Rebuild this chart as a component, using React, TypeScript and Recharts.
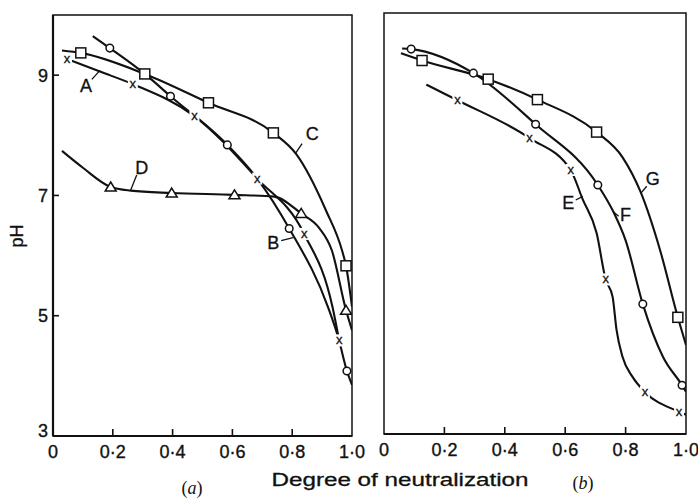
import { LineChart, Line, XAxis, YAxis, ReferenceArea, ReferenceLine, ReferenceDot } from "recharts";

// Each reading: degree of neutralization, pH, and whether it is a measured (marked) point
type Reading = { x: number; pH: number; m?: boolean };

const xTicks = [0, 0.2, 0.4, 0.6, 0.8, 1.0];
const yTicks = [3, 5, 7, 9];

// panel (a)
const curveA: Reading[] = [
  { x: 0.047, pH: 9.27, m: true },
  { x: 0.157, pH: 9.06 },
  { x: 0.267, pH: 8.85, m: true },
  { x: 0.473, pH: 8.32, m: true },
  { x: 0.683, pH: 7.28, m: true },
  { x: 0.84, pH: 6.36, m: true },
  { x: 0.935, pH: 5.14 },
  { x: 0.957, pH: 4.59, m: true },
];

const curveB: Reading[] = [
  { x: 0.133, pH: 9.65 },
  { x: 0.19, pH: 9.45, m: true },
  { x: 0.307, pH: 9.02 },
  { x: 0.393, pH: 8.65, m: true },
  { x: 0.583, pH: 7.84, m: true },
  { x: 0.683, pH: 7.28 },
  { x: 0.79, pH: 6.45, m: true },
  { x: 0.92, pH: 5.14 },
  { x: 0.955, pH: 4.62 },
  { x: 0.983, pH: 4.08, m: true },
  { x: 1.0, pH: 3.85 },
];

const curveC: Reading[] = [
  { x: 0.03, pH: 9.41 },
  { x: 0.093, pH: 9.37, m: true },
  { x: 0.307, pH: 9.02, m: true },
  { x: 0.52, pH: 8.54, m: true },
  { x: 0.737, pH: 8.04, m: true },
  { x: 0.813, pH: 7.69 },
  { x: 0.913, pH: 6.75 },
  { x: 0.967, pH: 6.08 },
  { x: 0.98, pH: 5.83, m: true },
  { x: 1.0, pH: 5.15 },
];

const curveD: Reading[] = [
  { x: 0.03, pH: 7.74 },
  { x: 0.1, pH: 7.46 },
  { x: 0.193, pH: 7.14, m: true },
  { x: 0.26, pH: 7.08 },
  { x: 0.397, pH: 7.04, m: true },
  { x: 0.607, pH: 7.01, m: true },
  { x: 0.74, pH: 6.98 },
  { x: 0.83, pH: 6.7, m: true },
  { x: 0.89, pH: 6.46 },
  { x: 0.933, pH: 6.08 },
  { x: 0.98, pH: 5.09, m: true },
  { x: 1.0, pH: 4.76 },
];

// panel (b)
const curveE: Reading[] = [
  { x: 0.14, pH: 8.81 },
  { x: 0.243, pH: 8.55, m: true },
  { x: 0.482, pH: 7.92, m: true },
  { x: 0.618, pH: 7.39, m: true },
  { x: 0.658, pH: 6.9 },
  { x: 0.704, pH: 6.34 },
  { x: 0.734, pH: 5.57, m: true },
  { x: 0.757, pH: 5.28 },
  { x: 0.77, pH: 4.73 },
  { x: 0.79, pH: 4.28 },
  { x: 0.823, pH: 3.95 },
  { x: 0.864, pH: 3.7, m: true },
  { x: 0.977, pH: 3.37, m: true },
  { x: 1.0, pH: 3.32 },
];

const curveF: Reading[] = [
  { x: 0.06, pH: 9.41 },
  { x: 0.09, pH: 9.4, m: true },
  { x: 0.296, pH: 9.0, m: true },
  { x: 0.502, pH: 8.15, m: true },
  { x: 0.708, pH: 7.14, m: true },
  { x: 0.76, pH: 6.69 },
  { x: 0.8, pH: 6.22 },
  { x: 0.857, pH: 5.16, m: true },
  { x: 0.924, pH: 4.28 },
  { x: 0.987, pH: 3.81, m: true },
  { x: 1.0, pH: 3.7 },
];

const curveG: Reading[] = [
  { x: 0.056, pH: 9.33 },
  { x: 0.126, pH: 9.21, m: true },
  { x: 0.345, pH: 8.9, m: true },
  { x: 0.508, pH: 8.56, m: true },
  { x: 0.704, pH: 8.02, m: true },
  { x: 0.79, pH: 7.6 },
  { x: 0.85, pH: 7.02 },
  { x: 0.914, pH: 6.06 },
  { x: 0.973, pH: 4.94, m: true },
  { x: 1.0, pH: 4.48 },
];

// curve letters with their leader lines, in data units
const labelsA = [
  { name: "A", x: 0.11, pH: 8.83, from: [0.13, 8.93], to: [0.157, 9.08] },
  { name: "B", x: 0.737, pH: 6.22, from: [0.763, 6.25], to: [0.803, 6.3] },
  { name: "C", x: 0.867, pH: 8.02, from: [0.833, 7.86], to: [0.81, 7.69] },
  { name: "D", x: 0.297, pH: 7.46, from: [0.28, 7.34], to: [0.26, 7.09] },
];

const labelsB = [
  { name: "E", x: 0.61, pH: 6.84, from: [0.635, 6.89], to: [0.658, 6.95] },
  { name: "F", x: 0.8, pH: 6.64, from: [0.777, 6.62], to: [0.76, 6.69] },
  { name: "G", x: 0.89, pH: 7.25, from: [0.87, 7.12], to: [0.85, 7.0] },
];

const FONT = '"Liberation Sans", Arial, sans-serif';
const SERIF = '"Liberation Serif", "Times New Roman", serif';
const INK = "#111";

const fmt = (v: number) => (v === 0 ? "0" : v.toFixed(1).replace(".", "\u00b7"));

const XTick = ({ x, y, payload }: any) => {
  const v = payload.value;
  return (
    <g>
      {v > 0 && v < 1 && <line x1={x} x2={x} y1={y} y2={y - 7} stroke={INK} strokeWidth={1.6} />}
      <text x={x} y={y + 22} textAnchor="middle" fontSize={18} fontFamily={FONT} fill={INK} stroke={INK} strokeWidth={0.35}>
        {fmt(v)}
      </text>
    </g>
  );
};

const YTick = ({ x, y, payload }: any) => {
  const v = payload.value;
  return (
    <g>
      {v > 3 && <line x1={x} x2={x + 6} y1={y} y2={y} stroke={INK} strokeWidth={1.6} />}
      <text
        x={x - 5}
        y={v === 3 ? y + 1 : y + 6.5}
        textAnchor="end"
        fontSize={18}
        fontFamily={FONT}
        fill={INK}
        stroke={INK}
        strokeWidth={0.35}
      >
        {v}
      </text>
    </g>
  );
};

const makeDot = (shape: "circle" | "square" | "triangle" | "cross") => (props: any) => {
  const { cx, cy, payload, index } = props;
  if (!payload.m) return <g key={index} />;
  if (shape === "circle")
    return <circle key={index} cx={cx} cy={cy} r={3.8} fill="#fff" stroke={INK} strokeWidth={1.5} />;
  if (shape === "square")
    return <rect key={index} x={cx - 5} y={cy - 5} width={10} height={10} fill="#fff" stroke={INK} strokeWidth={1.5} />;
  if (shape === "triangle")
    return (
      <path
        key={index}
        d={`M${cx},${cy - 5} L${cx + 5.5},${cy + 4} L${cx - 5.5},${cy + 4} Z`}
        fill="#fff"
        stroke={INK}
        strokeWidth={1.5}
      />
    );
  return (
    <g key={index}>
      <rect x={cx - 5} y={cy - 6} width={10} height={12} fill="#fff" />
      <text x={cx} y={cy + 4} textAnchor="middle" fontSize={13} fontFamily={FONT} fill={INK} stroke={INK} strokeWidth={0.3}>
        x
      </text>
    </g>
  );
};

const curveLine = (key: string, data: Reading[], shape: "circle" | "square" | "triangle" | "cross") => (
  <Line
    key={key}
    data={data}
    dataKey="pH"
    type="monotone"
    stroke={INK}
    strokeWidth={2.1}
    dot={makeDot(shape)}
    activeDot={false}
    isAnimationActive={false}
  />
);

const curveLabels = (labels: typeof labelsA) =>
  labels.flatMap((l) => [
    <ReferenceLine
      key={`seg-${l.name}`}
      segment={[
        { x: l.from[0], y: l.from[1] },
        { x: l.to[0], y: l.to[1] },
      ]}
      stroke={INK}
      strokeWidth={1.3}
    />,
    <ReferenceDot
      key={`lab-${l.name}`}
      x={l.x}
      y={l.pH}
      r={0}
      stroke="none"
      fill="none"
      label={{ value: l.name, position: "center", fontSize: 18, fontFamily: FONT, fill: INK, stroke: INK, strokeWidth: 0.3 }}
    />,
  ]);

const frame = <ReferenceArea x1={0} x2={1} y1={3} y2={10} fill="none" stroke={INK} strokeWidth={1.5} />;

const App = () => {
  return (
    <div style={{ position: "absolute", left: 0, top: 0, width: 698, height: 498, background: "#fff" }}>
      {/* (a) */}
      <div style={{ position: "absolute", left: 0, top: 0 }}>
        <LineChart width={372} height={498} margin={{ top: 15, right: 20, bottom: 0, left: 0 }}>
          {frame}
          <XAxis
            type="number"
            dataKey="x"
            domain={[0, 1]}
            ticks={xTicks}
            interval={0}
            allowDataOverflow
            height={62}
            axisLine={{ stroke: INK, strokeWidth: 2.2 }}
            tickLine={false}
            tickSize={0}
            tickMargin={0}
            tick={<XTick />}
          />
          <YAxis
            type="number"
            domain={[3, 10]}
            ticks={yTicks}
            interval={0}
            allowDataOverflow
            width={53}
            axisLine={{ stroke: INK, strokeWidth: 2.2 }}
            tickLine={false}
            tickSize={0}
            tickMargin={0}
            tick={<YTick />}
          />
          {curveLine("D", curveD, "triangle")}
          {curveLine("A", curveA, "cross")}
          {curveLine("B", curveB, "circle")}
          {curveLine("C", curveC, "square")}
          {curveLabels(labelsA)}
        </LineChart>
      </div>

      {/* (b) */}
      <div style={{ position: "absolute", left: 360, top: 0 }}>
        <LineChart width={338} height={498} margin={{ top: 13, right: 12, bottom: 0, left: 24 }}>
          {frame}
          <XAxis
            type="number"
            dataKey="x"
            domain={[0, 1]}
            ticks={xTicks}
            interval={0}
            allowDataOverflow
            height={64}
            axisLine={{ stroke: INK, strokeWidth: 2.2 }}
            tickLine={false}
            tickSize={0}
            tickMargin={0}
            tick={<XTick />}
          />
          <YAxis type="number" domain={[3, 10]} allowDataOverflow hide />
          {curveLine("E", curveE, "cross")}
          {curveLine("F", curveF, "circle")}
          {curveLine("G", curveG, "square")}
          {curveLabels(labelsB)}
        </LineChart>
      </div>

      <svg width={698} height={498} style={{ position: "absolute", left: 0, top: 0, pointerEvents: "none" }}>
        <text
          transform="translate(23,236) rotate(-90)"
          textAnchor="middle"
          fontSize={18}
          fontFamily={FONT}
          fill={INK}
          stroke={INK}
          strokeWidth={0.3}
        >
          pH
        </text>
        <text
          x={400}
          y={486}
          textAnchor="middle"
          textLength={257}
          lengthAdjust="spacingAndGlyphs"
          fontSize={18}
          fontFamily={FONT}
          fill={INK}
          stroke={INK}
          strokeWidth={0.3}
        >
          Degree of neutralization
        </text>
        <text x={192} y={494} textAnchor="middle" fontSize={18} fontFamily={SERIF} fill={INK}>
          (<tspan fontStyle="italic">a</tspan>)
        </text>
        <text x={583} y={489} textAnchor="middle" fontSize={18} fontFamily={SERIF} fill={INK}>
          (<tspan fontStyle="italic">b</tspan>)
        </text>
      </svg>
    </div>
  );
};

export default App;
